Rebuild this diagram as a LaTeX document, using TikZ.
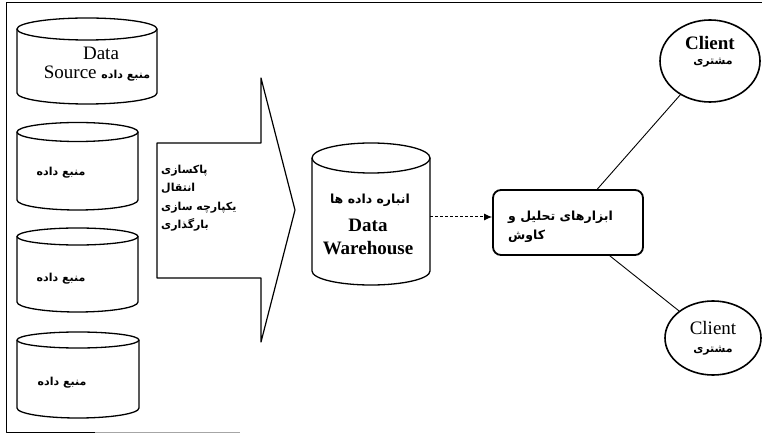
\documentclass[tikz,border=0pt]{standalone}
\usepackage{fontspec}
\setmainfont{Liberation Serif}
\newfontfamily\fa[Script=Arabic]{DejaVu Sans}
\TeXXeTstate=1
\usetikzlibrary{shapes.geometric,arrows.meta}
\newcommand\RL[1]{\beginR #1\endR}
\newcommand\cylshape[6]{%
  \draw[cyl] (#1,#3) ellipse [x radius=#2pt, y radius=#5pt];
  \draw[cyl] ({#1-#2},#3) -- ({#1-#2},#4) arc[start angle=180,end angle=360,x radius=#2pt,y radius=#6pt] -- ({#1+#2},#3);
}
\begin{document}
\begin{tikzpicture}[x=1pt,y=-1pt,line join=round,
  cyl/.style={line width=1.3pt},
  lat/.style={font=\fontsize{19}{21}\selectfont, inner sep=0pt},
  latb/.style={font=\bfseries\fontsize{19}{21}\selectfont, inner sep=0pt},
  fat/.style={font=\fa\bfseries\fontsize{11}{18.5}\selectfont, inner sep=0pt},
  fatbig/.style={font=\fa\bfseries\fontsize{12.5}{19.5}\selectfont, inner sep=0pt},
  blockarrow/.style={line width=1.2pt},
  toolbox/.style={draw, rounded corners=8pt, line width=1.8pt, minimum width=150pt, minimum height=65pt, inner sep=0pt},
  client/.style={draw, ellipse, line width=1.6pt, inner sep=0pt},
  link/.style={line width=0.9pt},
  dasharrow/.style={line width=1pt, dash pattern=on 3pt off 2pt, -{Latex[length=8pt,width=7pt]}}
]
\useasboundingbox (0,0) rectangle (762,435);
% frame
\draw[line width=1pt] (762,3) -- (6,3) -- (6,432) -- (95,432);
\draw[line width=1pt, black!35] (95,432) -- (240,432);

% data sources
\cylshape{87}{70}{29}{93}{11}{11}
\cylshape{77.5}{60.5}{132}{200}{9.5}{10}
\cylshape{77.5}{60.5}{236.5}{302}{8.5}{10}
\cylshape{78}{61}{340}{408}{8}{10}
\node[lat] (s1a) at (101,53) {Data};
\node[lat] (s1b) at (97,74) {Source\ {\fa\bfseries\fontsize{11}{12}\selectfont\RL{منبع داده}}};
\node[fat] (s2) at (61,173) {\RL{منبع داده}};
\node[fat] (s3) at (61,279) {\RL{منبع داده}};
\node[fat] (s4) at (62,383) {\RL{منبع داده}};

% block arrow
\draw[blockarrow] (157,143) -- (261,143) -- (261,78) -- (295,210) -- (261,342) -- (261,278) -- (157,278) -- cycle;
\node[fat, align=left, anchor=west] (etl) at (161,198) {\RL{پاکسازی}\\\RL{انتقال}\\\RL{یکپارچه سازی}\\\RL{بارگذاری}};

% data warehouse
\cylshape{371}{59}{158}{271}{15}{14}
\node[inner sep=0pt, minimum width=118pt, minimum height=113pt] (dw) at (371,214) {};
\node[fatbig] (dwfa) at (370,200) {\RL{انباره داده ها}};
\node[latb] (dwa) at (368,225) {Data};
\node[latb] (dwb) at (368,248) {Warehouse};

% tools
\node[toolbox] (tools) at (568,222.5) {};
\node[fatbig, align=left, anchor=west] (toolst) at (508,227) {\RL{ابزارهای تحلیل و}\\\RL{کاوش}};
\coordinate (ay) at (0,217);
\draw[dasharrow] (dw.east |- ay) -- (tools.west |- ay);

% clients
\node[client, minimum width=100pt, minimum height=82pt] (c1) at (710,61) {};
\node[latb] (c1a) at (710,43) {Client};
\node[fat] (c1b) at (713,63) {\RL{مشتری}};
\node[client, minimum width=96pt, minimum height=74pt] (c2) at (713,338) {};
\node[lat] (c2a) at (713,328) {Client};
\node[fat] (c2b) at (713,351) {\RL{مشتری}};
\draw[link] (tools) -- (c1);
\draw[link] (tools) -- (c2);
\end{tikzpicture}
\end{document}
